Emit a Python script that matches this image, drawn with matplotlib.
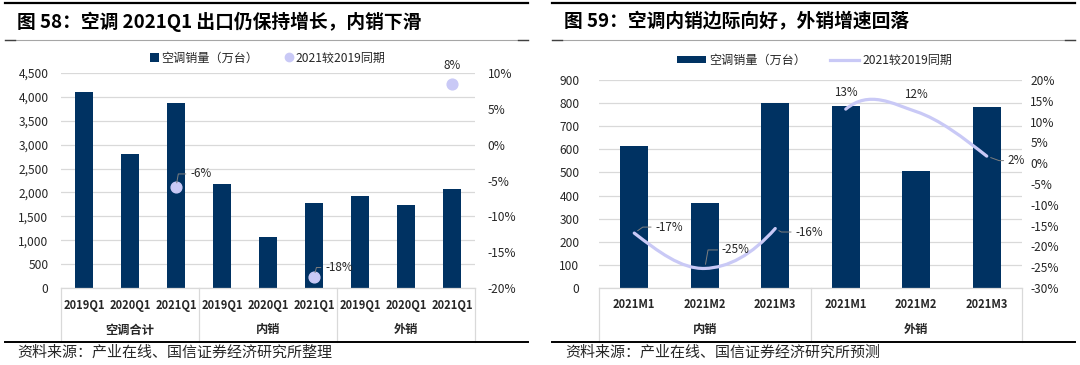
import numpy as np
import matplotlib
matplotlib.use('Agg')
import matplotlib.pyplot as plt
from matplotlib.path import Path
from matplotlib.patches import PathPatch, Patch
from matplotlib.lines import Line2D
from matplotlib.ticker import FuncFormatter, MultipleLocator

plt.rcParams['font.family'] = ['Noto Sans CJK SC', 'DejaVu Sans']
plt.rcParams['axes.unicode_minus'] = False

# ---- data: figure 58 ----
cats_58 = ['2019Q1', '2020Q1', '2021Q1'] * 3
groups_58 = ['空调合计', '内销', '外销']
sales_58 = [4100, 2800, 3870, 2180, 1070, 1780, 1920, 1740, 2080]
vs2019_58 = [np.nan, np.nan, -0.059, np.nan, np.nan, -0.184, np.nan, np.nan, 0.084]

# ---- data: figure 59 ----
cats_59 = ['2021M1', '2021M2', '2021M3'] * 2
groups_59 = ['内销', '外销']
sales_59 = [615, 367, 802, 789, 505, 785]
vs2019_59 = [-0.168, -0.253, -0.157, 0.130, 0.124, 0.017]

NAVY = '#003262'
LAV = '#c9c9f6'
GRID = '#d9d9d9'
TXT = '#262626'
PT = 72 / 100  # points per pixel at dpi 100

fig = plt.figure(figsize=(10.8, 3.65), dpi=100, facecolor='white')


def px(x, y):
    # pixel position (from top-left) -> figure fraction
    return x / 1080, 1 - y / 365


def frame_lines(x0, x1, title):
    fig.add_artist(Line2D([x0 / 1080, x1 / 1080], [1 - 3 / 365] * 2, color='black', lw=1.6))
    fig.add_artist(Line2D([x0 / 1080, x1 / 1080], [1 - 40 / 365] * 2, color='#a6a6a6', lw=0.8))
    for a, b in [(x0, x0 + 10), (x1 - 10, x1)]:
        fig.add_artist(Line2D([a / 1080, b / 1080], [1 - 40 / 365] * 2, color='#404040', lw=1.0))
    fig.add_artist(Line2D([x0 / 1080, x1 / 1080], [1 - 342 / 365] * 2, color='black', lw=1.4))
    fig.text(*px(x0 + 12, 22), title, fontsize=13.5, fontweight='bold', color='black',
             va='center', ha='left')


def style_axes(ax, n, groups, cats, grp_size, ymax, ystep, yfmt):
    ax.set_xlim(-0.5, n - 0.5)
    ax.set_ylim(0, ymax)
    ax.yaxis.set_major_locator(MultipleLocator(ystep))
    ax.yaxis.set_major_formatter(FuncFormatter(yfmt))
    ax.grid(axis='y', color=GRID, lw=0.9)
    ax.set_axisbelow(True)
    for s in ['top', 'right', 'left']:
        ax.spines[s].set_visible(False)
    ax.spines['bottom'].set_color(GRID)
    ax.spines['bottom'].set_linewidth(0.9)
    ax.tick_params(axis='y', length=0, labelsize=8.6, labelcolor=TXT, pad=8)
    ax.set_xticks([])
    h = ax.get_window_extent().height
    trans = ax.get_xaxis_transform()
    for i, c in enumerate(cats):
        ax.annotate(c, xy=(i, 0), xycoords=trans, xytext=(0, -17 * PT), textcoords='offset points',
                    ha='center', va='center', fontsize=8, fontweight='bold', color=TXT)
    for g, name in enumerate(groups):
        mid = g * grp_size + (grp_size - 1) / 2
        ax.annotate(name, xy=(mid, 0), xycoords=trans, xytext=(0, -42 * PT), textcoords='offset points',
                    ha='center', va='center', fontsize=8.8, fontweight='bold', color=TXT)
    for g in range(len(groups) + 1):
        xb = g * grp_size - 0.5
        ax.add_line(Line2D([xb, xb], [0, -54 / h], transform=trans, color=GRID, lw=0.9, clip_on=False))


def label(ax, x, y, text, dx, dy, ha='left', leader=None):
    kw = {}
    if leader is not None:
        kw['arrowprops'] = dict(arrowstyle='-', color='#7f7f7f', lw=0.7, shrinkA=1, shrinkB=3,
                                relpos=(0, 0.5), connectionstyle=leader)
    ax.annotate(text, xy=(x, y), xytext=(dx * PT, dy * PT), textcoords='offset points',
                ha=ha, va='center', fontsize=8.4, color=TXT, **kw)


# ================= 图58 =================
frame_lines(5, 528, '图 58：空调 2021Q1 出口仍保持增长，内销下滑')
ax1 = fig.add_axes([61 / 1080, 77 / 365, 414 / 1080, 215 / 365])
x58 = np.arange(len(cats_58))
ax1.bar(x58, sales_58, width=0.41, color=NAVY, zorder=2)
style_axes(ax1, len(cats_58), groups_58, cats_58, 3, 4500, 500, lambda v, _: f'{v:,.0f}')
ax1.tick_params(axis='y', pad=9)

ax1r = ax1.twinx()
ax1r.set_ylim(-0.20, 0.10)
ax1r.yaxis.set_major_locator(MultipleLocator(0.05))
ax1r.yaxis.set_major_formatter(FuncFormatter(lambda v, _: f'{v:.0%}'))
ax1r.tick_params(axis='y', length=0, labelsize=8.6, labelcolor=TXT, pad=9)
for s in ax1r.spines.values():
    s.set_visible(False)
ax1r.scatter(x58, vs2019_58, s=60, color=LAV, zorder=3)
label(ax1r, 2, vs2019_58[2], f'{vs2019_58[2]:.0%}', 14, 13, leader='angle,angleA=0,angleB=80,rad=0')
label(ax1r, 5, vs2019_58[5], f'{vs2019_58[5]:.0%}', 11, 9, leader='angle,angleA=0,angleB=75,rad=0')
label(ax1r, 8, vs2019_58[8], f'{vs2019_58[8]:.0%}', 0, 18.5, ha='center')

h58 = [Patch(facecolor=NAVY, label='空调销量（万台）'),
       Line2D([], [], marker='o', ls='none', color=LAV, markersize=6, label='2021较2019同期')]
ax1.legend(handles=h58, loc='center', bbox_to_anchor=(0.5, 1 + 15 / 215), ncol=2, frameon=False,
           fontsize=8.7, handlelength=0.7, handleheight=0.7, handletextpad=0.2, columnspacing=2.2,
           labelcolor=TXT)

fig.text(*px(17, 353), '资料来源：产业在线、国信证券经济研究所整理', fontsize=10.8, color=TXT,
         va='center', ha='left')

# ================= 图59 =================
frame_lines(552, 1075, '图 59：空调内销边际向好，外销增速回落')
ax2 = fig.add_axes([599 / 1080, 77 / 365, 423 / 1080, 208 / 365])
x59 = np.arange(len(cats_59))
ax2.bar(x59, sales_59, width=0.4, color=NAVY, zorder=2)
style_axes(ax2, len(cats_59), groups_59, cats_59, 3, 900, 100, lambda v, _: f'{v:,.0f}')
ax2.tick_params(axis='y', pad=14)

ax2r = ax2.twinx()
ax2r.set_ylim(-0.30, 0.20)
ax2r.yaxis.set_major_locator(MultipleLocator(0.05))
ax2r.yaxis.set_major_formatter(FuncFormatter(lambda v, _: f'{v:.0%}'))
ax2r.tick_params(axis='y', length=0, labelsize=8.6, labelcolor=TXT, pad=6)
for s in ax2r.spines.values():
    s.set_visible(False)

# smoothed line (one series, the link between the two groups is hidden)
yv = np.array(vs2019_59)
n = len(yv)
m = np.zeros(n)
m[1:-1] = (yv[2:] - yv[:-2]) / 2
m[0] = (3 * (yv[1] - yv[0]) - m[1]) / 2
m[-1] = (3 * (yv[-1] - yv[-2]) - m[-2]) / 2
verts, codes = [], []
for i in range(n - 1):
    if i == 2:
        continue
    if not verts or i == 3:
        verts.append((x59[i], yv[i]))
        codes.append(Path.MOVETO)
    verts += [(x59[i] + 1 / 3, yv[i] + m[i] / 3),
              (x59[i + 1] - 1 / 3, yv[i + 1] - m[i + 1] / 3),
              (x59[i + 1], yv[i + 1])]
    codes += [Path.CURVE4] * 3
ax2r.add_patch(PathPatch(Path(verts, codes), facecolor='none', edgecolor=LAV, lw=2.3,
                         capstyle='round', zorder=3))

label(ax2r, 0, yv[0], f'{yv[0]:.0%}', 21, 6, leader='angle,angleA=0,angleB=35,rad=0')
label(ax2r, 1, yv[1], f'{yv[1]:.0%}', 17, 18.5, leader='angle,angleA=0,angleB=80,rad=0')
label(ax2r, 2, yv[2], f'{yv[2]:.0%}', 20, -3.5, leader='angle,angleA=0,angleB=-30,rad=0')
label(ax2r, 3, yv[3], f'{yv[3]:.0%}', 0, 17, ha='center')
label(ax2r, 4, yv[4], f'{yv[4]:.0%}', 0, 17, ha='center')
label(ax2r, 5, yv[5], f'{yv[5]:.0%}', 21, -4.5, leader='angle,angleA=0,angleB=-20,rad=0')

h59 = [Patch(facecolor=NAVY, label='空调销量（万台）'),
       Line2D([], [], color=LAV, lw=2.3, label='2021较2019同期')]
ax2.legend(handles=h59, loc='center', bbox_to_anchor=(0.51, 1 + 20 / 208), ncol=2, frameon=False,
           fontsize=8.7, handlelength=2.4, handleheight=0.55, handletextpad=0.3, columnspacing=2.0,
           labelcolor=TXT)

fig.text(*px(565, 353), '资料来源：产业在线、国信证券经济研究所预测', fontsize=10.8, color=TXT,
         va='center', ha='left')

fig.savefig('out.png', dpi=100, facecolor='white')
